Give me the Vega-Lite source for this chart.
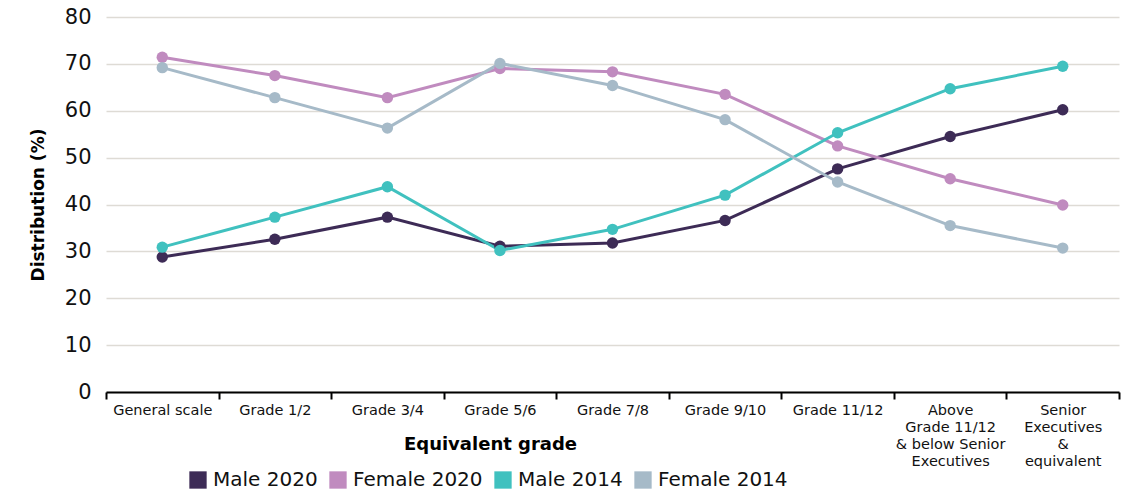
{
  "$schema": "https://vega.github.io/schema/vega-lite/v6.json",
  "width": 1013,
  "height": 375,
  "autosize": "none",
  "padding": {"left": 106, "top": 17, "right": 8, "bottom": 98},
  "background": "white",
  "config": {
    "font": "DejaVu Sans",
    "view": {"stroke": null}
  },
  "data": {
    "values": [
      {"grade": "General scale", "series": "Male 2020", "value": 28.8},
      {"grade": "Grade 1/2", "series": "Male 2020", "value": 32.6},
      {"grade": "Grade 3/4", "series": "Male 2020", "value": 37.3},
      {"grade": "Grade 5/6", "series": "Male 2020", "value": 31.1},
      {"grade": "Grade 7/8", "series": "Male 2020", "value": 31.8},
      {"grade": "Grade 9/10", "series": "Male 2020", "value": 36.6},
      {"grade": "Grade 11/12", "series": "Male 2020", "value": 47.6},
      {"grade": "Above Grade 11/12 & below Senior Executives", "series": "Male 2020", "value": 54.5},
      {"grade": "Senior Executives & equivalent", "series": "Male 2020", "value": 60.2},
      {"grade": "General scale", "series": "Female 2020", "value": 71.4},
      {"grade": "Grade 1/2", "series": "Female 2020", "value": 67.5},
      {"grade": "Grade 3/4", "series": "Female 2020", "value": 62.8},
      {"grade": "Grade 5/6", "series": "Female 2020", "value": 69.0},
      {"grade": "Grade 7/8", "series": "Female 2020", "value": 68.3},
      {"grade": "Grade 9/10", "series": "Female 2020", "value": 63.5},
      {"grade": "Grade 11/12", "series": "Female 2020", "value": 52.5},
      {"grade": "Above Grade 11/12 & below Senior Executives", "series": "Female 2020", "value": 45.5},
      {"grade": "Senior Executives & equivalent", "series": "Female 2020", "value": 39.9},
      {"grade": "General scale", "series": "Male 2014", "value": 30.9},
      {"grade": "Grade 1/2", "series": "Male 2014", "value": 37.3},
      {"grade": "Grade 3/4", "series": "Male 2014", "value": 43.8},
      {"grade": "Grade 5/6", "series": "Male 2014", "value": 30.2},
      {"grade": "Grade 7/8", "series": "Male 2014", "value": 34.7},
      {"grade": "Grade 9/10", "series": "Male 2014", "value": 42.0},
      {"grade": "Grade 11/12", "series": "Male 2014", "value": 55.3},
      {"grade": "Above Grade 11/12 & below Senior Executives", "series": "Male 2014", "value": 64.7},
      {"grade": "Senior Executives & equivalent", "series": "Male 2014", "value": 69.5},
      {"grade": "General scale", "series": "Female 2014", "value": 69.2},
      {"grade": "Grade 1/2", "series": "Female 2014", "value": 62.8},
      {"grade": "Grade 3/4", "series": "Female 2014", "value": 56.3},
      {"grade": "Grade 5/6", "series": "Female 2014", "value": 70.1},
      {"grade": "Grade 7/8", "series": "Female 2014", "value": 65.4},
      {"grade": "Grade 9/10", "series": "Female 2014", "value": 58.1},
      {"grade": "Grade 11/12", "series": "Female 2014", "value": 44.8},
      {"grade": "Above Grade 11/12 & below Senior Executives", "series": "Female 2014", "value": 35.5},
      {"grade": "Senior Executives & equivalent", "series": "Female 2014", "value": 30.7}
    ]
  },
  "encoding": {
    "x": {
      "field": "grade",
      "type": "nominal",
      "sort": ["General scale", "Grade 1/2", "Grade 3/4", "Grade 5/6", "Grade 7/8", "Grade 9/10", "Grade 11/12", "Above Grade 11/12 & below Senior Executives", "Senior Executives & equivalent"],
      "scale": {"paddingInner": 0, "paddingOuter": 0},
      "axis": {
        "title": "Equivalent grade",
        "titleFontSize": 18,
        "titleFontWeight": "bold",
        "titleColor": "#000",
        "titleX": 384,
        "titleY": 52,
        "titleBaseline": "middle",
        "labelAngle": 0,
        "labelAlign": "center",
        "labelBaseline": "top",
        "labelFontSize": 14.5,
        "labelColor": "#111",
        "labelLineHeight": 17,
        "labelPadding": 4,
        "labelOverlap": false,
        "labelExpr": "datum.value == 'Above Grade 11/12 & below Senior Executives' ? ['Above', 'Grade 11/12', '& below Senior', 'Executives'] : datum.value == 'Senior Executives & equivalent' ? ['Senior', 'Executives', '&', 'equivalent'] : datum.value",
        "tickBand": "extent",
        "tickColor": "#000",
        "tickWidth": 2,
        "tickSize": 7,
        "domainColor": "#000",
        "domainWidth": 2,
        "grid": false
      }
    },
    "y": {
      "field": "value",
      "type": "quantitative",
      "scale": {"domain": [0, 80]},
      "axis": {
        "title": "Distribution (%)",
        "titleFontSize": 17,
        "titleFontWeight": "bold",
        "titleColor": "#000",
        "titlePadding": 17,
        "values": [0, 10, 20, 30, 40, 50, 60, 70, 80],
        "labelFontSize": 21,
        "labelColor": "#111",
        "labelPadding": 15,
        "labelOverlap": false,
        "labelFlush": false,
        "ticks": false,
        "domain": false,
        "gridColor": "#dedbd5",
        "gridWidth": 1.5
      }
    },
    "color": {
      "field": "series",
      "type": "nominal",
      "sort": ["Male 2020", "Female 2020", "Male 2014", "Female 2014"],
      "scale": {
        "domain": ["Male 2020", "Female 2020", "Male 2014", "Female 2014"],
        "range": ["#3d2b56", "#c08bbf", "#40c1bf", "#a6bac8"]
      },
      "legend": {
        "title": null,
        "orient": "none",
        "direction": "horizontal",
        "legendX": 82,
        "legendY": 453,
        "symbolType": "square",
        "symbolSize": 300,
        "symbolStrokeWidth": 0,
        "symbolOpacity": 1,
        "labelFontSize": 20,
        "labelColor": "#111",
        "labelOffset": 5,
        "columnPadding": 10
      }
    }
  },
  "layer": [
    {
      "mark": {"type": "line", "strokeWidth": 3},
      "encoding": {"detail": {"field": "series"}}
    },
    {
      "mark": {"type": "circle", "size": 130, "opacity": 1}
    }
  ]
}
